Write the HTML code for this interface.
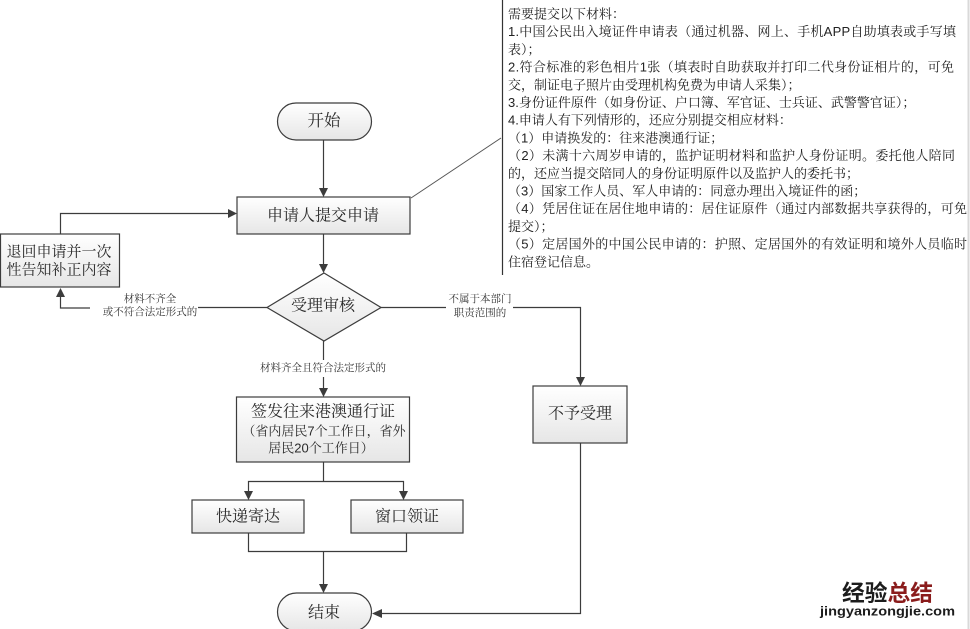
<!DOCTYPE html>
<html>
<head>
<meta charset="utf-8">
<style>
  html, body { margin: 0; padding: 0; background: #ffffff; }
  body { width: 970px; height: 629px; overflow: hidden; }
  svg { display: block; }
  .box { fill: url(#g); stroke: #3c3c3c; stroke-width: 1.2; }
  .ln { fill: none; stroke: #3c3c3c; stroke-width: 1.2; }
  .ah { fill: #3c3c3c; stroke: none; }
  .lbl { font-family: "Liberation Sans", "Noto Serif CJK SC", serif; fill: #2a2a2a; }
  .tb { font-family: "Liberation Sans", "Noto Serif CJK SC", serif; font-size: 13px; fill: #222; }
  .sm { font-family: "Liberation Sans", "Noto Serif CJK SC", serif; font-size: 10.5px; fill: #333; }
</style>
</head>
<body>
<svg width="970" height="629" viewBox="0 0 970 629" xmlns="http://www.w3.org/2000/svg">
  <defs>
    <linearGradient id="g" x1="0" y1="0" x2="0" y2="1">
      <stop offset="0" stop-color="#ffffff"/>
      <stop offset="1" stop-color="#e6e6e6"/>
    </linearGradient>
  </defs>

  <!-- right edge gray line -->
  <line x1="968.5" y1="0" x2="968.5" y2="629" stroke="#d9d9d9" stroke-width="2"/>

  <!-- text box border + callout -->
  <line x1="502.5" y1="0" x2="502.5" y2="275" stroke="#333" stroke-width="1.2"/>
  <line x1="411" y1="198" x2="501" y2="138" stroke="#555" stroke-width="1"/>

  <!-- text block -->
  <g class="tb" dominant-baseline="central">
    <text x="508" y="14">需要提交以下材料：</text>
    <text x="508" y="31.7" textLength="448" lengthAdjust="spacing">1.中国公民出入境证件申请表（通过机器、网上、手机APP自助填表或手写填</text>
    <text x="508" y="49.4">表）；</text>
    <text x="508" y="67.1" textLength="446" lengthAdjust="spacing">2.符合标准的彩色相片1张（填表时自助获取并打印二代身份证相片的，可免</text>
    <text x="508" y="84.8">交，制证电子照片由受理机构免费为申请人采集）；</text>
    <text x="508" y="102.5">3.身份证件原件（如身份证、户口簿、军官证、士兵证、武警警官证）；</text>
    <text x="508" y="120.2">4.申请人有下列情形的，还应分别提交相应材料：</text>
    <text x="508" y="137.9">（1）申请换发的：往来港澳通行证；</text>
    <text x="508" y="155.6" textLength="447" lengthAdjust="spacing">（2）未满十六周岁申请的，监护证明材料和监护人身份证明。委托他人陪同</text>
    <text x="508" y="173.3">的，还应当提交陪同人的身份证明原件以及监护人的委托书；</text>
    <text x="508" y="191">（3）国家工作人员、军人申请的：同意办理出入境证件的函；</text>
    <text x="508" y="208.7" textLength="459" lengthAdjust="spacing">（4）凭居住证在居住地申请的：居住证原件（通过内部数据共享获得的，可免</text>
    <text x="508" y="226.4">提交）；</text>
    <text x="508" y="244.1" textLength="459" lengthAdjust="spacing">（5）定居国外的中国公民申请的：护照、定居国外的有效证明和境外人员临时</text>
    <text x="508" y="261.8">住宿登记信息。</text>
  </g>

  <!-- connectors -->
  <!-- start -> submit -->
  <line class="ln" x1="323.5" y1="140" x2="323.5" y2="189"/>
  <polygon class="ah" points="319,188 328,188 323.5,197"/>
  <!-- submit -> diamond -->
  <line class="ln" x1="323.5" y1="234" x2="323.5" y2="265"/>
  <polygon class="ah" points="319,264 328,264 323.5,273"/>
  <!-- diamond left -->
  <polyline class="ln" points="267,307.5 198,307.5"/>
  <polyline class="ln" points="90,308 60.5,308 60.5,297"/>
  <polygon class="ah" points="56,297 65,297 60.5,288"/>
  <!-- return box -> submit -->
  <polyline class="ln" points="60.5,234 60.5,213.5 229,213.5"/>
  <polygon class="ah" points="228,209 228,218 237,213.5"/>
  <!-- diamond right -->
  <line class="ln" x1="381" y1="307.5" x2="446" y2="307.5"/>
  <polyline class="ln" points="513,307.5 580.5,307.5 580.5,378"/>
  <polygon class="ah" points="576,377 585,377 580.5,386"/>
  <!-- diamond bottom -->
  <line class="ln" x1="323.5" y1="341" x2="323.5" y2="360"/>
  <line class="ln" x1="323.5" y1="377" x2="323.5" y2="389"/>
  <polygon class="ah" points="319,388 328,388 323.5,397"/>
  <!-- issue -> two branches -->
  <line class="ln" x1="323.5" y1="462" x2="323.5" y2="481"/>
  <polyline class="ln" points="248.5,492 248.5,481.5 403.5,481.5 403.5,492"/>
  <polygon class="ah" points="244,491 253,491 248.5,500"/>
  <polygon class="ah" points="399,491 408,491 403.5,500"/>
  <!-- branches -> end -->
  <polyline class="ln" points="248.5,533 248.5,551.5 406.5,551.5 406.5,533"/>
  <line class="ln" x1="323.5" y1="551.5" x2="323.5" y2="585"/>
  <polygon class="ah" points="319,584 328,584 323.5,593"/>
  <!-- reject -> end -->
  <polyline class="ln" points="580.5,443 580.5,613.5 381,613.5"/>
  <polygon class="ah" points="382,609 382,618 372,613.5"/>

  <!-- shapes -->
  <rect class="box" x="277.5" y="103" width="94" height="37" rx="18.5" ry="18.5"/>
  <rect class="box" x="237" y="197" width="173" height="37"/>
  <rect class="box" x="0.5" y="234" width="119" height="53"/>
  <polygon class="box" points="324,273 381,307.5 324,341 267,307.5"/>
  <rect class="box" x="236.5" y="397" width="173" height="65"/>
  <rect class="box" x="533" y="386" width="94" height="57"/>
  <rect class="box" x="192" y="500" width="112" height="33"/>
  <rect class="box" x="351" y="500" width="112" height="33"/>
  <rect class="box" x="277.5" y="593" width="94" height="38" rx="19" ry="19"/>

  <!-- shape labels -->
  <g class="lbl" text-anchor="middle" dominant-baseline="central">
    <text x="324" y="121" font-size="16.5">开始</text>
    <text x="323" y="216" font-size="16">申请人提交申请</text>
    <text x="59" y="252" font-size="15">退回申请并一次</text>
    <text x="59" y="270" font-size="15">性告知补正内容</text>
    <text x="323" y="306" font-size="16">受理审核</text>
    <text x="323" y="412" font-size="16">签发往来港澳通行证</text>
    <text x="324" y="431" font-size="13">（省内居民7个工作日，省外</text>
    <text x="321" y="448" font-size="13">居民20个工作日）</text>
    <text x="580" y="414" font-size="16">不予受理</text>
    <text x="248" y="517" font-size="16">快递寄达</text>
    <text x="407" y="517" font-size="16">窗口领证</text>
    <text x="324" y="613" font-size="16">结束</text>
  </g>

  <!-- connector labels -->
  <g class="sm" text-anchor="middle" dominant-baseline="central">
    <text x="150" y="299">材料不齐全</text>
    <text x="150" y="312">或不符合法定形式的</text>
    <text x="480" y="299">不属于本部门</text>
    <text x="480" y="313">职责范围的</text>
    <text x="323" y="368">材料齐全且符合法定形式的</text>
  </g>

  <!-- watermark -->
  <text x="842" y="592" font-family="'Noto Sans CJK SC', sans-serif" font-weight="bold" font-size="22.5" dominant-baseline="central" textLength="91" lengthAdjust="spacingAndGlyphs"><tspan fill="#1c1c1c">经验</tspan><tspan fill="#8a1c1c">总结</tspan></text>
  <text x="820" y="611" font-family="'Liberation Sans', sans-serif" font-weight="bold" font-size="13" fill="#1c1c1c" dominant-baseline="central" textLength="135" lengthAdjust="spacingAndGlyphs">jingyanzongjie.com</text>
</svg>
</body>
</html>
